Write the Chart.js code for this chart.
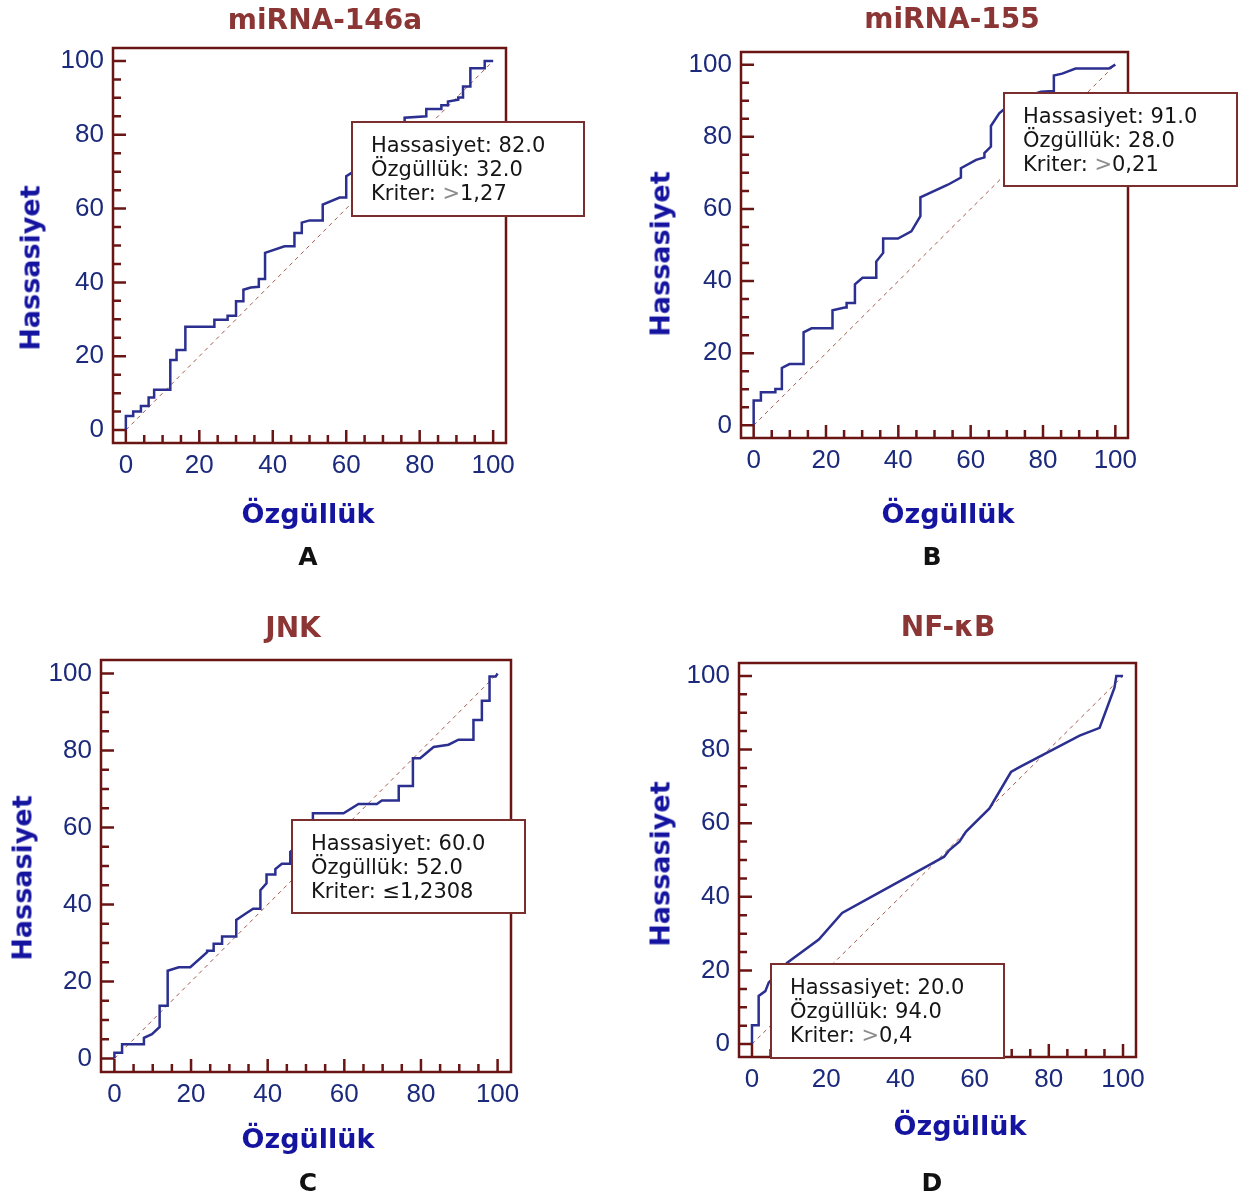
<!DOCTYPE html>
<html>
<head>
<meta charset="utf-8">
<title>ROC eğrileri</title>
<script src="https://cdn.jsdelivr.net/npm/chart.js@4.4.1/dist/chart.umd.min.js"></script>
<style>
  body { margin: 0; background: #fff; }
  #page { position: relative; width: 1246px; height: 1199px; overflow: hidden; font-family: "DejaVu Sans", Verdana, sans-serif; }
  canvas { position: absolute; }
  .lbl { position: absolute; transform: translate(-50%, -50%); white-space: nowrap; font-weight: bold; line-height: 1; }
  .title { font-size: 28px; color: #8b3535; }
  .axis { font-size: 27px; color: #1414a0; }
  .axis.v { transform: translate(-50%, -50%) rotate(-90deg); }
  .letter { font-size: 25px; color: #111; }
</style>
</head>
<body>
<div id="page"></div>
<script>
const panelTitles = ['miRNA-146a', 'miRNA-155', 'JNK', 'NF-κB'];
const panelLetters = ['A', 'B', 'C', 'D'];
const tickValues = [0, 20, 40, 60, 80, 100];

// ROC curve points: x = Özgüllük axis, y = Hassasiyet
const ozgullukA = [0, 0, 2, 2, 4.1, 4.1, 6.2, 6.2, 7.7, 7.7, 12.1, 12.1, 13.8, 13.8, 16.2, 16.2, 24.1, 24.1, 27.7, 27.7,
  30, 30, 32, 32, 34, 36.2, 36.2, 37.9, 37.9, 43.2, 45.9, 45.9, 47.9, 47.9, 50, 53.6, 53.6, 58.2, 60, 60,
  62, 75.9, 75.9, 81.8, 81.8, 85.9, 85.9, 87.7, 87.7, 90.5, 90.5, 91.8, 91.8, 93.8, 93.8, 97.7, 97.7, 100];
const hassasiyetA = [0, 3.8, 3.8, 5, 5, 6.5, 6.5, 8.8, 8.8, 10.9, 10.9, 19, 19, 21.7, 21.7, 28, 28, 29.9, 29.9, 31,
  31, 34.9, 34.9, 38, 38.6, 38.8, 40.9, 40.9, 48, 49.8, 49.8, 53.4, 53.4, 56.2, 56.8, 56.8, 61.1, 63, 63, 68.8,
  70, 83, 84.6, 85, 87, 87, 88, 88, 89, 89.5, 90.1, 90.1, 93.1, 93.1, 98, 98, 100, 100];

const ozgullukB = [0, 0, 2, 2, 6, 6, 7.8, 7.8, 9.9, 13.8, 13.8, 16, 21.8, 21.8, 25.2, 25.7, 25.7, 28, 28, 30.1,
  33.9, 33.9, 35.8, 35.8, 39.9, 43.6, 46.1, 46.1, 53.7, 57.3, 57.3, 61.5, 63.8, 63.8, 65.6, 65.6, 67.9, 72, 79.4, 83,
  83, 85.3, 89, 98.2, 100];
const hassasiyetB = [0, 6.9, 6.9, 9.2, 9.2, 10.1, 10.1, 15.9, 17, 17, 25.8, 26.9, 26.9, 31.9, 32.7, 32.7, 33.9, 33.9, 39.1, 40.9,
  40.9, 45.4, 47.8, 51.8, 51.8, 53.8, 58, 63.2, 66.7, 68.7, 71.3, 73.6, 74.3, 75.5, 77.3, 83, 86.5, 90, 92.5, 92.7,
  97, 97.5, 98.9, 98.9, 100];

const ozgullukC = [0, 0, 2, 2, 7.7, 7.7, 9.8, 11.8, 11.8, 13.9, 13.9, 16.8, 19.8, 24.2, 24.2, 25.9, 25.9, 28.1, 28.1, 31.8,
  31.8, 34.2, 36.2, 38.1, 38.1, 39.7, 39.7, 42, 42, 43.7, 45.9, 45.9, 50, 51.8, 51.8, 59.8, 63.7, 68.5, 69.8, 74.2,
  74.2, 77.9, 77.9, 79.8, 83.3, 87.2, 89.8, 93.7, 93.7, 95.9, 95.9, 97.9, 97.9, 99.5, 100];
const hassasiyetC = [0, 1.5, 1.5, 3.7, 3.7, 5.4, 6.3, 8.2, 13.7, 13.7, 22.8, 23.7, 23.7, 27.6, 28, 28, 29.8, 29.8, 31.7, 31.7,
  36, 37.6, 38.9, 38.9, 43.7, 45.5, 47.8, 47.8, 49.2, 50.6, 50.6, 53.7, 57, 61, 63.7, 63.7, 66.1, 66.1, 67, 67,
  70.8, 70.8, 78, 78, 80.9, 81.5, 82.8, 82.8, 87.9, 87.9, 92.9, 92.9, 99.2, 99.2, 100];

const ozgullukD = [0, 0, 1.8, 1.8, 3.6, 4.5, 9.5, 18, 24.3, 32.4, 42.8, 47.7, 51.8, 53.2, 55.9, 57.7, 64, 69.8, 72.1, 77.5,
  88.3, 93.7, 97.7, 98.2, 100];
const hassasiyetD = [0, 5.1, 5.1, 13.1, 14.4, 16.7, 22.1, 28.4, 35.6, 40.1, 45.9, 48.6, 50.9, 52.7, 55, 57.7, 64, 73.9, 75.2, 78.1,
  83.8, 85.9, 96.8, 100, 100];

// cut-off boxes
const boxHassasiyet = [82.0, 91.0, 60.0, 20.0];
const boxOzgulluk = [32.0, 28.0, 52.0, 94.0];
const boxSign = ['>', '>', '≤', '>'];
const boxKriter = ['1,27', '0,21', '1,2308', '0,4'];

const curvesX = [ozgullukA, ozgullukB, ozgullukC, ozgullukD];
const curvesY = [hassasiyetA, hassasiyetB, hassasiyetC, hassasiyetD];

// page layout (px)
const panels = [
  { ox: 0,   oy: 0,   w: 623, h: 600, area: [113, 48, 506, 443],   box: [352, 122, 232, 94],
    title: [325, 20],  xTitle: [308, 513],  yTitle: [30, 268],  letter: [308, 556] },
  { ox: 623, oy: 0,   w: 623, h: 600, area: [741, 52, 1128, 438],  box: [1004, 93, 233, 93],
    title: [952, 19],  xTitle: [948, 513],  yTitle: [660, 254], letter: [932, 556] },
  { ox: 0,   oy: 600, w: 623, h: 599, area: [101, 660, 511, 1072], box: [292, 820, 233, 93],
    title: [293, 628], xTitle: [308, 1138], yTitle: [22, 878],  letter: [308, 1182] },
  { ox: 623, oy: 600, w: 623, h: 599, area: [739, 663, 1136, 1057], box: [771, 964, 233, 94],
    title: [948, 627], xTitle: [960, 1125], yTitle: [660, 864], letter: [932, 1182] }
];

const frameColor = '#6a1414';
const textColor = '#151515';

// frame with inward ticks, and the cut-off box
const rocFrame = {
  id: 'rocFrame',
  afterDatasetsDraw(chart) {
    const { ctx, chartArea: a, scales: { x, y } } = chart;
    ctx.save();
    ctx.strokeStyle = frameColor;
    ctx.lineWidth = 2.5;
    ctx.strokeRect(a.left, a.top, a.right - a.left, a.bottom - a.top);
    ctx.beginPath();
    for (let v = 0; v <= 100; v += 5) {
      const len = v % 20 === 0 ? 13 : 8;
      const py = y.getPixelForValue(v);
      ctx.moveTo(a.left, py);
      ctx.lineTo(a.left + len, py);
      const px = x.getPixelForValue(v);
      ctx.moveTo(px, a.bottom);
      ctx.lineTo(px, a.bottom - len);
    }
    ctx.stroke();
    ctx.restore();
  },
  afterDraw(chart, args, opts) {
    const { ctx } = chart;
    const [bx, by, bw, bh] = opts.box;
    ctx.save();
    ctx.fillStyle = '#fff';
    ctx.fillRect(bx, by, bw, bh);
    ctx.strokeStyle = '#7a2e2e';
    ctx.lineWidth = 2;
    ctx.strokeRect(bx, by, bw, bh);
    ctx.font = '21px "DejaVu Sans"';
    ctx.textBaseline = 'middle';
    ctx.fillStyle = textColor;
    const tx = bx + 19;
    ctx.fillText('Hassasiyet: ' + opts.sens.toFixed(1), tx, by + 25);
    ctx.fillText('Özgüllük: ' + opts.spec.toFixed(1), tx, by + 49);
    const lead = 'Kriter: ';
    ctx.fillText(lead, tx, by + 73);
    let w = ctx.measureText(lead).width;
    ctx.fillStyle = opts.sign === '>' ? '#8c8c8c' : textColor;
    ctx.fillText(opts.sign, tx + w, by + 73);
    w += ctx.measureText(opts.sign).width;
    ctx.fillStyle = textColor;
    ctx.fillText(opts.crit, tx + w, by + 73);
    ctx.restore();
  }
};

const page = document.getElementById('page');

function addLabel(text, cls, pos) {
  const d = document.createElement('div');
  d.className = 'lbl ' + cls;
  d.textContent = text;
  d.style.left = pos[0] + 'px';
  d.style.top = pos[1] + 'px';
  page.appendChild(d);
}

panels.forEach((p, i) => {
  const cv = document.createElement('canvas');
  cv.width = p.w;
  cv.height = p.h;
  cv.style.left = p.ox + 'px';
  cv.style.top = p.oy + 'px';
  page.appendChild(cv);

  const left = p.area[0] - p.ox, top = p.area[1] - p.oy;
  const right = p.area[2] - p.ox, bottom = p.area[3] - p.oy;
  const tickFont = { family: '"Liberation Sans", Arial, sans-serif', size: 26 };

  new Chart(cv, {
    type: 'line',
    data: {
      datasets: [
        {
          data: curvesX[i].map((x, k) => ({ x, y: curvesY[i][k] })),
          borderColor: '#2b2f8f', borderWidth: 2.5, pointRadius: 0, tension: 0, fill: false
        },
        {
          data: [{ x: 0, y: 0 }, { x: 100, y: 100 }],
          borderColor: '#a5574c', borderWidth: 1, borderDash: [4, 4], pointRadius: 0, fill: false
        }
      ]
    },
    options: {
      responsive: false,
      animation: false,
      events: [],
      layout: { padding: { left: 0, top: top, right: p.w - right, bottom: 0 } },
      plugins: {
        legend: { display: false },
        tooltip: { enabled: false },
        rocFrame: {
          box: [p.box[0] - p.ox, p.box[1] - p.oy, p.box[2], p.box[3]],
          sens: boxHassasiyet[i], spec: boxOzgulluk[i], sign: boxSign[i], crit: boxKriter[i]
        }
      },
      scales: {
        x: {
          type: 'linear', min: -3.5, max: 103.5,
          grid: { display: false, drawTicks: false },
          border: { display: false },
          afterBuildTicks: s => { s.ticks = tickValues.map(v => ({ value: v })); },
          afterFit: s => { s.height = p.h - bottom; },
          ticks: { padding: 7, color: '#1c2a7c', font: tickFont }
        },
        y: {
          type: 'linear', min: -3.5, max: 103.5,
          grid: { display: false, drawTicks: false },
          border: { display: false },
          afterBuildTicks: s => { s.ticks = tickValues.map(v => ({ value: v })); },
          afterFit: s => { s.width = left; },
          ticks: { padding: 9, color: '#1c2a7c', font: tickFont }
        }
      }
    },
    plugins: [rocFrame]
  });

  addLabel(panelTitles[i], 'title', p.title);
  addLabel('Özgüllük', 'axis', p.xTitle);
  addLabel('Hassasiyet', 'axis v', p.yTitle);
  addLabel(panelLetters[i], 'letter', p.letter);
});
</script>
</body>
</html>
